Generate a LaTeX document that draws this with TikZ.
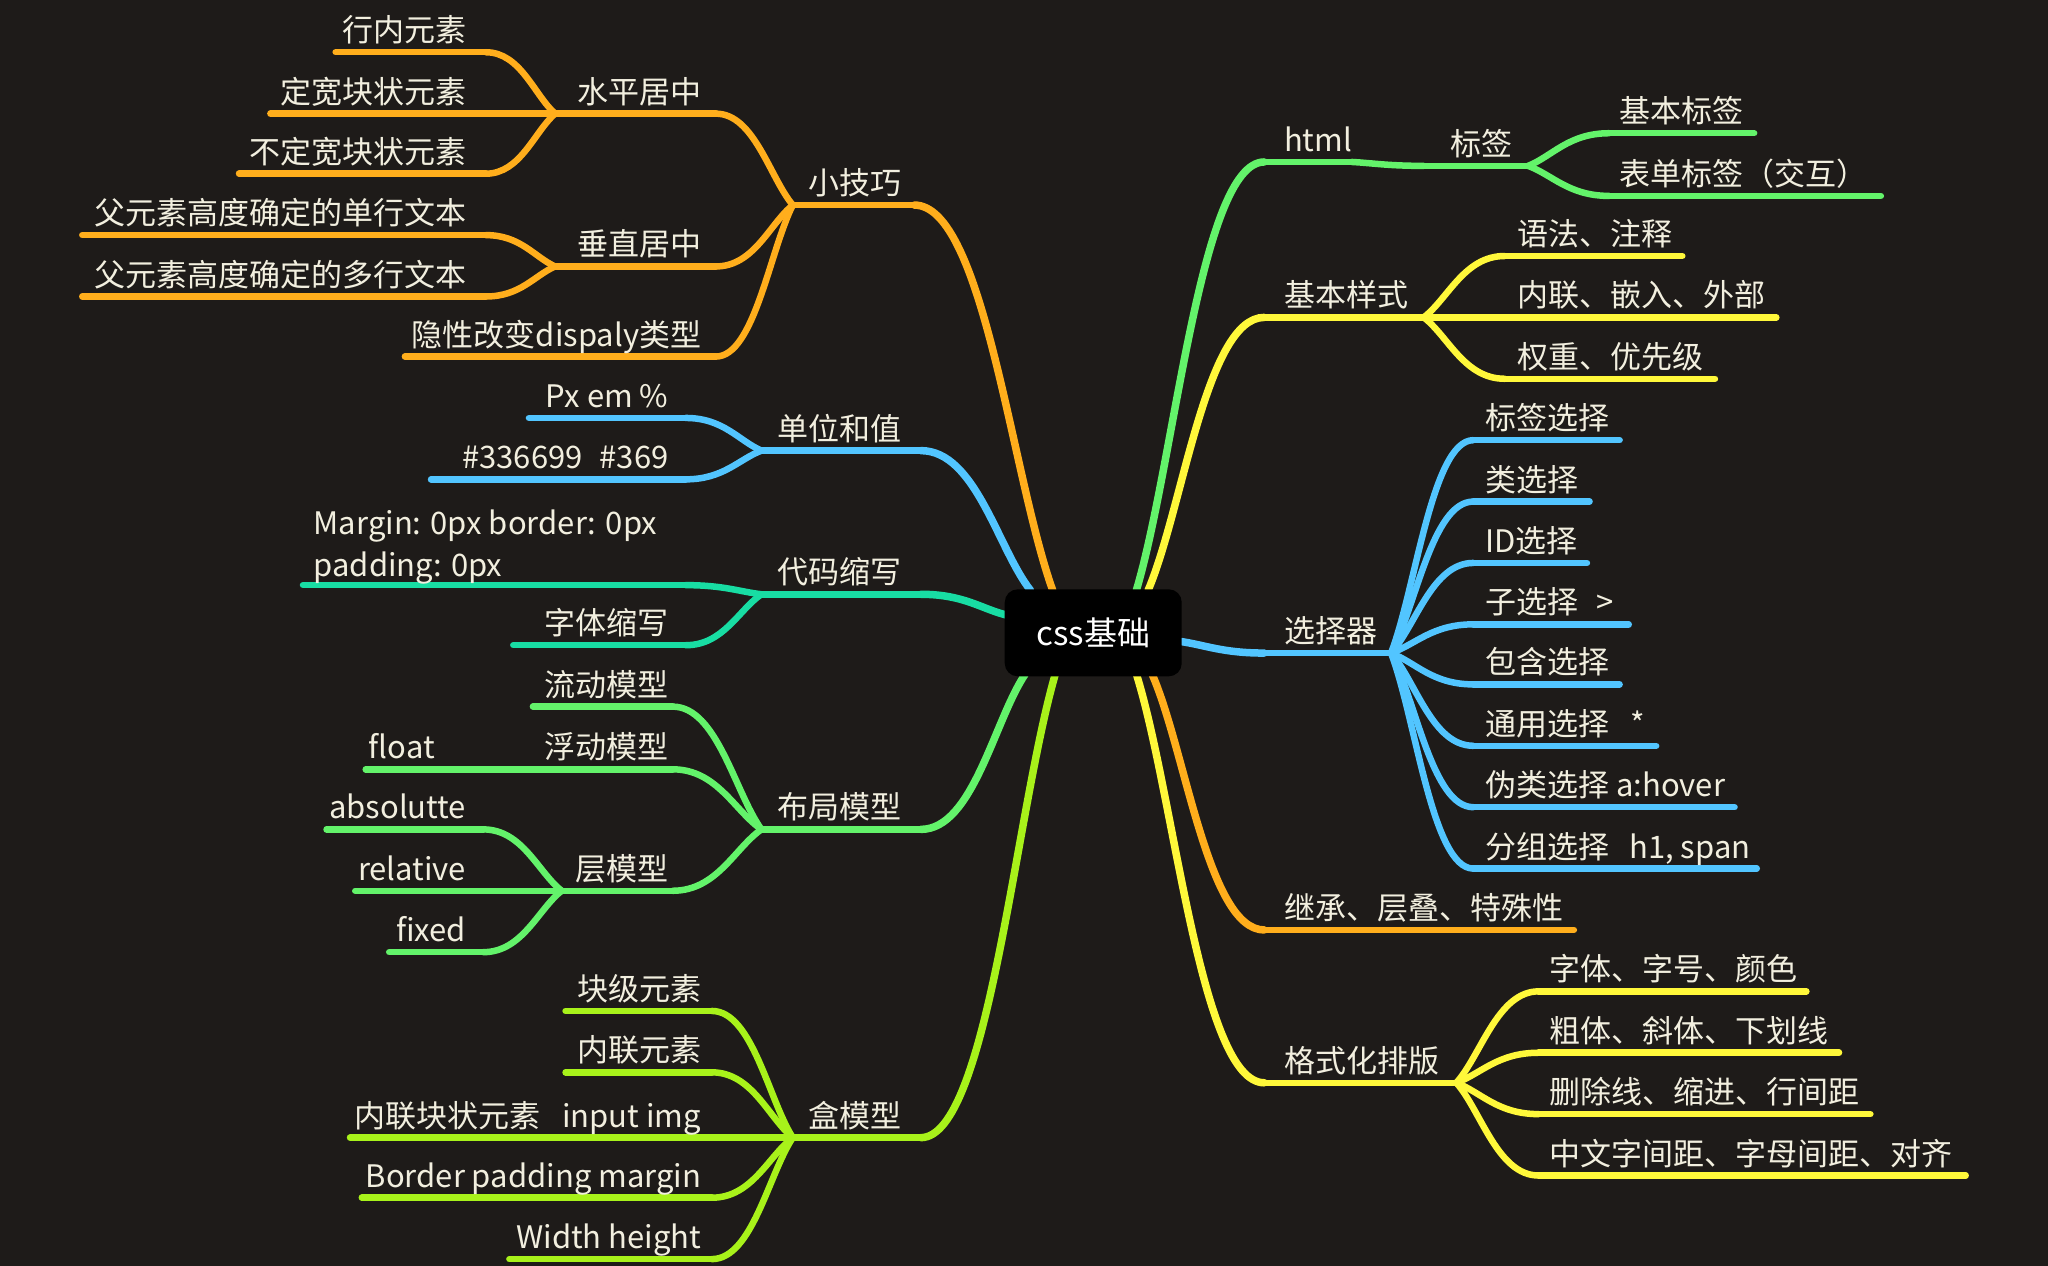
\documentclass[tikz,border=0pt]{standalone}
\usepackage{fontspec}
\setmainfont{Noto Sans CJK SC}
\usetikzlibrary{calc}
\definecolor{bgc}{HTML}{1E1B19}
\definecolor{txtc}{HTML}{F2EFDF}
\definecolor{corange}{HTML}{FFAE1C}
\definecolor{cblue}{HTML}{52C5FF}
\definecolor{cteal}{HTML}{18DDA3}
\definecolor{cgreen}{HTML}{63F36A}
\definecolor{clime}{HTML}{A8F21A}
\definecolor{cyellow}{HTML}{FFF83A}
\newcommand\lblfont{\fontsize{31pt}{42pt}\selectfont}
\tikzset{
  ln/.style={line width=6.5pt, line cap=round, line join=round},
  mainln/.style={line width=7.5pt, line cap=round},
  lbl/.style={text=txtc, font=\lblfont, inner sep=0pt},
  rootbox/.style={fill=black, rounded corners=13pt, minimum width=177pt, minimum height=87pt, inner sep=0pt, text=white, font=\fontsize{33pt}{40pt}\selectfont},
}
% left topic: name, colour, x-left, x-right, y, text right x, text
\newcommand\LT[7]{%
  \coordinate (#1-l) at (#3,#5);
  \coordinate (#1-r) at (#4,#5);
  \draw[ln,#2] (#1-l) -- (#1-r);
  \node[lbl,anchor=base east] (#1) at (#6,{#5-8}) {#7};}
% right topic: name, colour, x-left, x-right, y, text left x, text
\newcommand\RT[7]{%
  \coordinate (#1-l) at (#3,#5);
  \coordinate (#1-r) at (#4,#5);
  \draw[ln,#2] (#1-l) -- (#1-r);
  \node[lbl,anchor=base west] (#1) at (#6,{#5-8}) {#7};}
% connector: style, colour, end with horizontal tangent, junction
\newcommand\Conn[4][ln]{%
  \draw[#1,#2] let \p1=(#3), \p2=(#4) in (#3) .. controls ({\x1+0.5*(\x2-\x1)},\y1) and ({\x2+0.3*(\x1-\x2)},{\y2+0.3*(\y1-\y2)}) .. (#4);}
\begin{document}
\begin{tikzpicture}[x=1.306122pt, y=-1.306122pt]
\fill[bgc] (0,0) rectangle (1568,969);
\useasboundingbox (0,0) rectangle (1568,969);

% root attachment points
\coordinate (r-xjq) at (806,452);
\coordinate (r-dw) at (789,452);
\coordinate (r-dm) at (771,471);
\coordinate (r-bj) at (785,516);
\coordinate (r-hm) at (808,516);
\coordinate (r-html) at (870,452);
\coordinate (r-jbys) at (879,452);
\coordinate (r-xzq) at (903,491);
\coordinate (r-jc) at (882,516);
\coordinate (r-gsh) at (870,516);

% ===== left side =====
% 小技巧
\LT{xjq}{corange}{607}{700}{157}{690}{小技巧}
\Conn[mainln]{corange}{xjq-r}{r-xjq}
\LT{spjz}{corange}{425}{548}{87}{537}{水平居中}
\Conn{corange}{spjz-r}{xjq-l}
\LT{hnys}{corange}{257}{372}{40}{357}{行内元素}
\Conn{corange}{hnys-r}{spjz-l}
\LT{dkks}{corange}{207}{425}{87}{357}{定宽块状元素}
\LT{bdk}{corange}{183}{372}{133}{357}{不定宽块状元素}
\Conn{corange}{bdk-r}{spjz-l}
\LT{czjz}{corange}{425}{548}{204}{537}{垂直居中}
\Conn{corange}{czjz-r}{xjq-l}
\LT{dhwb}{corange}{63}{372}{180}{357}{父元素高度确定的单行文本}
\Conn{corange}{dhwb-r}{czjz-l}
\LT{dhwbb}{corange}{63}{372}{227}{357}{父元素高度确定的多行文本}
\Conn{corange}{dhwbb-r}{czjz-l}
\LT{yxgb}{corange}{310}{548}{273}{537}{隐性改变dispaly类型}
\Conn{corange}{yxgb-r}{xjq-l}

% 单位和值
\LT{dw}{cblue}{583}{705}{345}{690}{单位和值}
\Conn[mainln]{cblue}{dw-r}{r-dw}
\LT{px}{cblue}{405}{525}{320}{512}{Px em \%}
\Conn{cblue}{px-r}{dw-l}
\LT{hex}{cblue}{330}{525}{367}{512}{\#336699\hspace{0.55em}\#369}
\Conn{cblue}{hex-r}{dw-l}

% 代码缩写
\LT{dm}{cteal}{583}{705}{455}{690}{代码缩写}
\Conn[mainln]{cteal}{dm-r}{r-dm}
\coordinate (mg-l) at (232,448);
\coordinate (mg-r) at (525,448);
\draw[ln,cteal] (mg-l) -- (mg-r);
\Conn{cteal}{mg-r}{dm-l}
\node[lbl,anchor=north west,align=left] (mg) at (240,390) {Margin: 0px border: 0px\\padding: 0px};
\LT{ztsx}{cteal}{393}{525}{494}{512}{字体缩写}
\Conn{cteal}{ztsx-r}{dm-l}

% 布局模型
\LT{bj}{cgreen}{583}{705}{635}{690}{布局模型}
\Conn[mainln]{cgreen}{bj-r}{r-bj}
\LT{ldmx}{cgreen}{408}{515}{541}{512}{流动模型}
\Conn{cgreen}{ldmx-r}{bj-l}
\LT{fdmx}{cgreen}{408}{515}{589}{512}{浮动模型}
\Conn{cgreen}{fdmx-r}{bj-l}
\LT{flt}{cgreen}{280}{408}{589}{333}{float}
\LT{cmx}{cgreen}{430}{515}{682}{512}{层模型}
\Conn{cgreen}{cmx-r}{bj-l}
\LT{abs}{cgreen}{250}{370}{635}{357}{absolutte}
\Conn{cgreen}{abs-r}{cmx-l}
\LT{rel}{cgreen}{272}{430}{682}{357}{relative}
\LT{fix}{cgreen}{298}{370}{729}{357}{fixed}
\Conn{cgreen}{fix-r}{cmx-l}

% 盒模型
\LT{hm}{clime}{607}{705}{871}{690}{盒模型}
\Conn[mainln]{clime}{hm-r}{r-hm}
\LT{kjys}{clime}{433}{545}{774}{537}{块级元素}
\Conn{clime}{kjys-r}{hm-l}
\LT{nlys}{clime}{433}{545}{821}{537}{内联元素}
\Conn{clime}{nlys-r}{hm-l}
\LT{nlkz}{clime}{268}{607}{871}{537}{内联块状元素\hspace{0.7em}input img}
\LT{bpm}{clime}{277}{545}{917}{537}{Border padding margin}
\Conn{clime}{bpm-r}{hm-l}
\LT{wh}{clime}{390}{545}{964}{537}{Width height}
\Conn{clime}{wh-r}{hm-l}

% ===== right side =====
% html
\RT{html}{cgreen}{968}{1035}{124}{983}{html}
\Conn[mainln]{cgreen}{html-l}{r-html}
\RT{bq}{cgreen}{1090}{1170}{127}{1110}{标签}
\Conn{cgreen}{bq-l}{html-r}
\RT{jbbq}{cgreen}{1232}{1343}{102}{1240}{基本标签}
\Conn{cgreen}{jbbq-l}{bq-r}
\RT{bdbq}{cgreen}{1232}{1440}{150}{1240}{表单标签（交互）}
\Conn{cgreen}{bdbq-l}{bq-r}

% 基本样式
\RT{jbys}{cyellow}{968}{1090}{243}{983}{基本样式}
\Conn[mainln]{cyellow}{jbys-l}{r-jbys}
\RT{yf}{cyellow}{1152}{1288}{196}{1162}{语法、注释}
\Conn{cyellow}{yf-l}{jbys-r}
\RT{nl}{cyellow}{1090}{1360}{243}{1162}{内联、嵌入、外部}
\RT{qz}{cyellow}{1152}{1313}{290}{1162}{权重、优先级}
\Conn{cyellow}{qz-l}{jbys-r}

% 选择器
\RT{xzq}{cblue}{968}{1065}{500}{983}{选择器}
\Conn[mainln]{cblue}{xzq-l}{r-xzq}
\RT{s1}{cblue}{1128}{1240}{337}{1137}{标签选择}
\Conn{cblue}{s1-l}{xzq-r}
\RT{s2}{cblue}{1128}{1217}{384}{1137}{类选择}
\Conn{cblue}{s2-l}{xzq-r}
\RT{s3}{cblue}{1128}{1215}{431}{1137}{ID选择}
\Conn{cblue}{s3-l}{xzq-r}
\RT{s4}{cblue}{1128}{1247}{478}{1137}{子选择\hspace{0.6em}>}
\Conn{cblue}{s4-l}{xzq-r}
\RT{s5}{cblue}{1128}{1240}{524}{1137}{包含选择}
\Conn{cblue}{s5-l}{xzq-r}
\RT{s6}{cblue}{1128}{1268}{571}{1137}{通用选择\hspace{0.7em}*}
\Conn{cblue}{s6-l}{xzq-r}
\RT{s7}{cblue}{1128}{1328}{618}{1137}{伪类选择 a:hover}
\Conn{cblue}{s7-l}{xzq-r}
\RT{s8}{cblue}{1128}{1345}{665}{1137}{分组选择\hspace{0.65em}h1, span}
\Conn{cblue}{s8-l}{xzq-r}

% 继承、层叠、特殊性
\RT{jc}{corange}{968}{1205}{712}{983}{继承、层叠、特殊性}
\Conn[mainln]{corange}{jc-l}{r-jc}

% 格式化排版
\RT{gsh}{cyellow}{968}{1115}{829}{983}{格式化排版}
\Conn[mainln]{cyellow}{gsh-l}{r-gsh}
\RT{f1}{cyellow}{1178}{1383}{759}{1186}{字体、字号、颜色}
\Conn{cyellow}{f1-l}{gsh-r}
\RT{f2}{cyellow}{1178}{1408}{806}{1186}{粗体、斜体、下划线}
\Conn{cyellow}{f2-l}{gsh-r}
\RT{f3}{cyellow}{1178}{1432}{853}{1186}{删除线、缩进、行间距}
\Conn{cyellow}{f3-l}{gsh-r}
\RT{f4}{cyellow}{1178}{1505}{900}{1186}{中文字间距、字母间距、对齐}
\Conn{cyellow}{f4-l}{gsh-r}

% root
\node[rootbox] (root) at (837,484.5) {css基础};
\end{tikzpicture}
\end{document}
